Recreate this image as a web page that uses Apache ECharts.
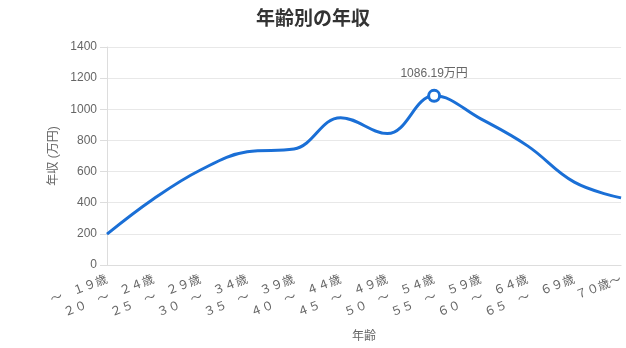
<!DOCTYPE html>
<html><head><meta charset="utf-8">
<script src="https://cdn.jsdelivr.net/npm/echarts@6/dist/echarts.min.js"></script>
<style>html,body{margin:0;padding:0;background:#fff}#c{width:626px;height:348px}</style>
</head><body><div id="c"></div>
<script>
const categories = ['～　１９歳','２０　～　２４歳','２５　～　２９歳','３０　～　３４歳','３５　～　３９歳','４０　～　４４歳','４５　～　４９歳','５０　～　５４歳','５５　～　５９歳','６０　～　６４歳','６５　～　６９歳','７０歳～'];
const incomes = [198, 425, 610, 727, 745, 946, 844, 1086.19, 938, 765, 532, 431];
const peakIndex = 7;
const yTicks = {min: 0, max: 1400, interval: 200};

const chart = echarts.init(document.getElementById('c'));
const font = '"Liberation Sans", "Noto Sans CJK JP", sans-serif';
chart.setOption({
  animation: false,
  title: {text: '年齢別の年収', left: 'center', top: 3, textStyle: {fontSize: 19, fontWeight: 'bold', color: '#333', fontFamily: '"Noto Sans CJK JP", sans-serif'}},
  grid: {left: 107, right: 1, top: 47, bottom: 81},
  xAxis: {
    type: 'category', data: categories, boundaryGap: false,
    name: '年齢', nameLocation: 'middle', nameGap: 66,
    nameTextStyle: {color: '#666', fontSize: 12, fontFamily: font},
    axisLine: {lineStyle: {color: '#ddd'}},
    axisTick: {show: false},
    axisLabel: {rotate: 21, color: '#666', fontSize: 12, fontFamily: font, interval: 0, margin: 14},
    splitLine: {show: false}
  },
  yAxis: {
    type: 'value', min: yTicks.min, max: yTicks.max, interval: yTicks.interval,
    name: '年収 (万円)', nameLocation: 'middle', nameGap: 40, nameRotate: 90,
    nameTextStyle: {color: '#666', fontSize: 12, fontFamily: font},
    axisLine: {show: true, lineStyle: {color: '#ddd'}},
    axisTick: {show: true, length: 7, lineStyle: {color: '#ddd'}},
    axisLabel: {color: '#666', fontSize: 12, fontFamily: font, margin: 10, formatter: v => String(v)},
    splitLine: {lineStyle: {color: '#e8e8e8'}}
  },
  series: [{
    type: 'line', smooth: 0.4, symbol: 'none',
    lineStyle: {color: '#1a6fd6', width: 3},
    itemStyle: {color: '#1a6fd6'},
    data: incomes.map((v, i) => i === peakIndex ? {
      value: v, symbol: 'circle', symbolSize: 11,
      itemStyle: {color: '#fff', borderColor: '#1a6fd6', borderWidth: 3},
      label: {show: true, position: 'top', distance: 9, formatter: v + '万円', color: '#666', fontSize: 12, fontFamily: font}
    } : v)
  }]
});
</script></body></html>
